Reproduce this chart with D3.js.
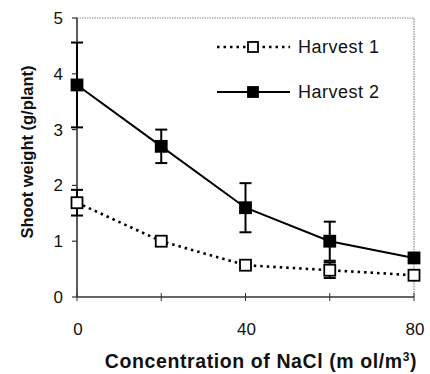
<!DOCTYPE html>
<html>
<head>
<meta charset="utf-8">
<script src="https://cdn.jsdelivr.net/npm/d3@7"></script>
<style>
  body { margin:0; background:#fff; }
  svg text { font-family: "Liberation Sans", Arial, sans-serif; fill:#111; }
</style>
</head>
<body>
<svg id="chart" width="430" height="374"></svg>
<script>
// data
var nacl = [0, 20, 40, 60, 80];
var harvest1 = [1.69, 1.0, 0.57, 0.48, 0.39];
var harvest1Err = [0.23, 0.06, 0.05, 0.14, 0.05];
var harvest2 = [3.8, 2.7, 1.6, 1.0, 0.7];
var harvest2Err = [0.76, 0.3, 0.44, 0.35, 0.08];
var xTicks = [0, 40, 80];
var xMinor = [0, 20, 40, 60, 80];
var yTicks = [0, 1, 2, 3, 4, 5];

var svg = d3.select("#chart");
var x = d3.scaleLinear().domain([0, 80]).range([77, 414]);
var y = d3.scaleLinear().domain([0, 5]).range([297, 18]);

// frame (top & right dotted)
svg.append("path")
  .attr("d", "M" + x(0) + "," + y(5) + "H" + x(80) + "V" + y(0))
  .attr("fill", "none").attr("stroke", "#888").attr("stroke-width", 1.2)
  .attr("stroke-dasharray", "1.5,1");

// x axis
var xAxis = svg.append("g").attr("transform", "translate(0," + y(0) + ")");
xAxis.append("line").attr("x1", x(0)).attr("x2", x(80))
  .attr("stroke", "#333").attr("stroke-width", 1.6);
xAxis.selectAll(".xt").data(xMinor).enter().append("line")
  .attr("x1", function(d){ return x(d); }).attr("x2", function(d){ return x(d); })
  .attr("y1", -4).attr("y2", 4).attr("stroke", "#333").attr("stroke-width", 1);
xAxis.selectAll(".xl").data(xTicks).enter().append("text")
  .attr("x", function(d){ return x(d) + 1; }).attr("y", 38)
  .attr("text-anchor", "middle").attr("font-size", 17)
  .text(function(d){ return d; });

// y axis
var yAxis = svg.append("g");
yAxis.append("line").attr("x1", x(0)).attr("x2", x(0))
  .attr("y1", y(0)).attr("y2", y(5)).attr("stroke", "#333").attr("stroke-width", 1.6);
yAxis.selectAll(".yt").data(yTicks).enter().append("line")
  .attr("x1", x(0) - 5).attr("x2", x(0))
  .attr("y1", function(d){ return y(d); }).attr("y2", function(d){ return y(d); })
  .attr("stroke", "#333").attr("stroke-width", 1.2);
yAxis.selectAll(".yl").data(yTicks).enter().append("text")
  .attr("x", 63).attr("y", function(d){ return y(d) + 6; })
  .attr("text-anchor", "end").attr("font-size", 17)
  .text(function(d){ return d; });

// axis titles
var xTitle = svg.append("text").attr("x", 261).attr("y", 368)
  .attr("text-anchor", "middle").attr("font-size", 19.5).attr("font-weight", "bold")
  .attr("letter-spacing", 0.6);
xTitle.append("tspan").text("Concentration of NaCl (m ol/m");
xTitle.append("tspan").attr("font-size", 12).attr("dy", -7).text("3");
xTitle.append("tspan").attr("dy", 7).text(")");

svg.append("text")
  .attr("transform", "translate(33,152) rotate(-90)")
  .attr("text-anchor", "middle").attr("font-size", 16.5).attr("font-weight", "bold")
  .text("Shoot weight (g/plant)");

function drawSeries(vals, errs, dash, fill, lw) {
  var pts = nacl.map(function(d, i){ return {x:d, y:vals[i], e:errs[i]}; });
  var line = d3.line().x(function(d){ return x(d.x); }).y(function(d){ return y(d.y); });
  svg.append("path").datum(pts).attr("d", line)
    .attr("fill", "none").attr("stroke", "#000").attr("stroke-width", lw)
    .attr("stroke-dasharray", dash);
  var g = svg.append("g");
  pts.forEach(function(p){
    var cx = x(p.x), y1 = y(p.y + p.e), y2 = y(p.y - p.e);
    g.append("line").attr("x1", cx).attr("x2", cx).attr("y1", y1).attr("y2", y2)
      .attr("stroke", "#000").attr("stroke-width", 2);
    [y1, y2].forEach(function(yy){
      g.append("line").attr("x1", cx - 6).attr("x2", cx + 6).attr("y1", yy).attr("y2", yy)
        .attr("stroke", "#000").attr("stroke-width", 2);
    });
  });
  g.selectAll("rect").data(pts).enter().append("rect")
    .attr("x", function(d){ return x(d.x) - 5.5; })
    .attr("y", function(d){ return y(d.y) - 5.5; })
    .attr("width", 11).attr("height", 11)
    .attr("fill", fill).attr("stroke", "#000").attr("stroke-width", 1.8);
}

drawSeries(harvest1, harvest1Err, "2.5,4", "#fff", 2.6);
drawSeries(harvest2, harvest2Err, null, "#000", 2);

// legend
var leg = svg.append("g");
var legItems = [
  {name:"Harvest 1", y:47, dash:"2.5,4", fill:"#fff", lw:2.6},
  {name:"Harvest 2", y:92, dash:null, fill:"#000", lw:2}
];
legItems.forEach(function(d){
  leg.append("line").attr("x1", 217).attr("x2", 290).attr("y1", d.y).attr("y2", d.y)
    .attr("stroke", "#000").attr("stroke-width", d.lw).attr("stroke-dasharray", d.dash);
  leg.append("rect").attr("x", 248).attr("y", d.y - 5).attr("width", 10).attr("height", 10)
    .attr("fill", d.fill).attr("stroke", "#000").attr("stroke-width", 1.8);
  leg.append("text").attr("x", 298).attr("y", d.y + 6)
    .attr("font-size", 18).attr("letter-spacing", 0.5).text(d.name);
});
</script>
</body>
</html>
